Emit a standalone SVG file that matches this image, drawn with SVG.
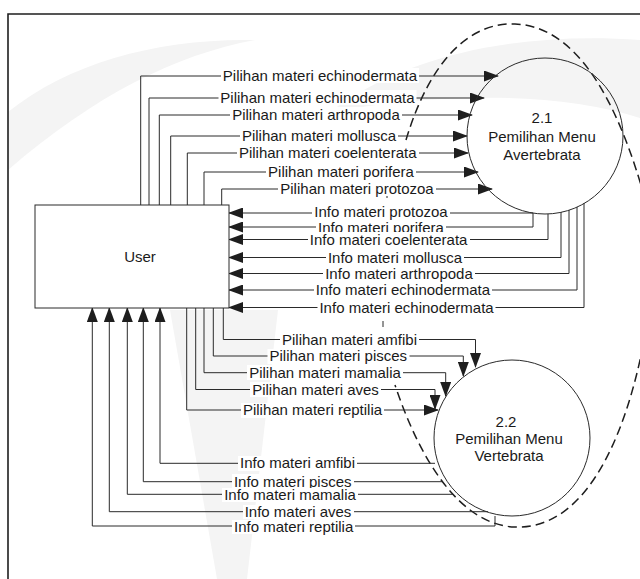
<svg xmlns="http://www.w3.org/2000/svg" width="640" height="579" viewBox="0 0 640 579">
  <defs>
    <marker id="arrow" markerUnits="userSpaceOnUse" markerWidth="15" markerHeight="11" viewBox="0 0 15 11" refX="14" refY="5.5" orient="auto">
      <path d="M0,0 L15,5.5 L0,11 Z" fill="#1e1e1e"/>
    </marker>
    <style>
      .frame { fill: none; stroke: #1e1e1e; stroke-width: 1.6; }
      .wm { fill: #f4f4f4; stroke: none; }
      .node { fill: #ffffff; stroke: #2a2a2a; stroke-width: 1; }
      .flow { fill: none; stroke: #2a2a2a; stroke-width: 1; marker-end: url(#arrow); }
      .line { fill: none; stroke: #2a2a2a; stroke-width: 1; }
      .bound { fill: none; stroke: #1e1e1e; stroke-width: 1.5; stroke-dasharray: 9 5; }
      .bg { fill: #ffffff; }
      text { font-family: "Liberation Sans", Arial, Helvetica, sans-serif; font-size: 15px; fill: #1a1a1a; }
      .lbl { text-anchor: middle; }
      .title { text-anchor: middle; }
    </style>
  </defs>

  <rect width="640" height="579" fill="#ffffff"/>

  <!-- faint background watermark -->
  <g id="watermark">
    <path class="wm" d="M8 112 C70 62 160 38 255 40 C175 55 95 95 8 170 Z"/>
    <path class="wm" d="M330 112 C410 52 525 32 640 40 L640 118 C560 92 440 92 330 112 Z"/>
    <path class="wm" d="M170 310 L278 310 L247 579 L217 579 Z"/>
  </g>

  <!-- page frame -->
  <path class="frame" d="M8 579 V14 H640"/>

  <!-- system boundary (dashed) -->
  <g id="boundary">
    <path class="bound" d="M406 140 C430 60 470 22 515 24 C570 26 615 85 648 210"/>
    <path class="bound" d="M648 318 C632 420 592 530 515 527 C460 525 420 460 395 385"/>
    <path class="line" d="M387 195 V198 M383 321 V327"/>
  </g>

  <!-- connectors -->
  <g id="connectors">
    <!-- User -> 2.1 -->
    <path class="flow" d="M140.7 205 V76 H498"/>
    <path class="flow" d="M149 205 V98 H484"/>
    <path class="flow" d="M159.3 205 V115 H472"/>
    <path class="flow" d="M170.7 205 V136 H467"/>
    <path class="flow" d="M187.3 205 V153 H468"/>
    <path class="flow" d="M204 205 V172 H478"/>
    <path class="flow" d="M221.7 205 V189 H492"/>

    <!-- 2.1 -> User -->
    <path class="flow" d="M533 213 H229"/>
    <path class="flow" d="M533 213 V227 H229"/>
    <path class="flow" d="M548 214 V239.5 H229"/>
    <path class="flow" d="M561 212 V257.5 H229"/>
    <path class="flow" d="M569 210 V273.5 H229"/>
    <path class="flow" d="M577 207 V290 H229"/>
    <path class="flow" d="M584 203 V307.5 H229"/>

    <!-- User -> 2.2 -->
    <path class="flow" d="M223.3 308 V339.5 H475.5 V367"/>
    <path class="flow" d="M213.3 308 V356 H463.3 V376"/>
    <path class="flow" d="M204 308 V372.7 H445.7 V396"/>
    <path class="flow" d="M195.7 308 V389.5 H435 V409"/>
    <path class="flow" d="M186.7 308 V410 H438"/>

    <!-- 2.2 -> User -->
    <path class="flow" d="M435 463.3 H160 V308"/>
    <path class="flow" d="M442 481.7 H143.3 V308"/>
    <path class="flow" d="M453 494.3 H127.3 V308"/>
    <path class="flow" d="M488 511.7 H109.3 V308"/>
    <path class="flow" d="M495 516 V526 H92.3 V308"/>

    <!-- flow labels -->
    <g id="labels">
      <rect class="bg" x="221" y="68" width="198" height="15"/>
      <text class="lbl" x="320" y="81">Pilihan materi echinodermata</text>
      <rect class="bg" x="218.5" y="90" width="198" height="15"/>
      <text class="lbl" x="317.5" y="103">Pilihan materi echinodermata</text>
      <rect class="bg" x="230" y="107" width="172" height="15"/>
      <text class="lbl" x="316" y="120">Pilihan materi arthropoda</text>
      <rect class="bg" x="240" y="128" width="158" height="15"/>
      <text class="lbl" x="319" y="141">Pilihan materi mollusca</text>
      <rect class="bg" x="237" y="145" width="182" height="15"/>
      <text class="lbl" x="327.7" y="158">Pilihan materi coelenterata</text>
      <rect class="bg" x="266" y="164" width="150" height="15"/>
      <text class="lbl" x="341" y="177">Pilihan materi porifera</text>
      <rect class="bg" x="278" y="181" width="158" height="15"/>
      <text class="lbl" x="357" y="194">Pilihan materi protozoa</text>

      <rect class="bg" x="316" y="220" width="130" height="14"/>
      <text class="lbl" x="381" y="232.5">Info materi porifera</text>
      <rect class="bg" x="312" y="205" width="138" height="14"/>
      <text class="lbl" x="381" y="217">Info materi protozoa</text>
      <rect class="bg" x="308" y="232" width="162" height="15"/>
      <text class="lbl" x="388.6" y="244.5">Info materi coelenterata</text>
      <rect class="bg" x="326" y="250" width="138" height="15"/>
      <text class="lbl" x="395" y="262.5">Info materi mollusca</text>
      <rect class="bg" x="323" y="266" width="152" height="15"/>
      <text class="lbl" x="399" y="278.5">Info materi arthropoda</text>
      <rect class="bg" x="314" y="283" width="178" height="15"/>
      <text class="lbl" x="403" y="295">Info materi echinodermata</text>
      <rect class="bg" x="317.5" y="300" width="178" height="15"/>
      <text class="lbl" x="406.6" y="312.5">Info materi echinodermata</text>

      <rect class="bg" x="280" y="332" width="139" height="15"/>
      <text class="lbl" x="349.5" y="344.5">Pilihan materi amfibi</text>
      <rect class="bg" x="267.5" y="349" width="142" height="15"/>
      <text class="lbl" x="338.3" y="361">Pilihan materi pisces</text>
      <rect class="bg" x="247" y="365" width="156" height="15"/>
      <text class="lbl" x="325" y="377.7">Pilihan materi mamalia</text>
      <rect class="bg" x="250" y="382" width="131" height="15"/>
      <text class="lbl" x="315.5" y="394.5">Pilihan materi aves</text>
      <rect class="bg" x="241" y="403" width="143" height="15"/>
      <text class="lbl" x="312.5" y="415">Pilihan materi reptilia</text>

      <rect class="bg" x="238" y="456" width="119" height="15"/>
      <text class="lbl" x="297.5" y="468.3">Info materi amfibi</text>
      <rect class="bg" x="232" y="474" width="122" height="14"/>
      <text class="lbl" x="292.7" y="486.5">Info materi pisces</text>
      <rect class="bg" x="222" y="488" width="136" height="14"/>
      <text class="lbl" x="290" y="499.8">Info materi mamalia</text>
      <rect class="bg" x="243" y="505" width="111" height="14"/>
      <text class="lbl" x="298" y="516.5">Info materi aves</text>
      <rect class="bg" x="232" y="520" width="123" height="14"/>
      <text class="lbl" x="293.7" y="531.5">Info materi reptilia</text>
    </g>
  </g>

  <!-- external entity -->
  <g id="user">
    <rect class="node" x="35" y="205" width="194" height="103"/>
    <text class="title" x="140" y="262">User</text>
  </g>

  <!-- process 2.1 -->
  <g id="p21">
    <circle cx="545" cy="136" r="78" fill="none" stroke="#2a2a2a" stroke-width="1"/>
    <text class="title" x="542" y="123">2.1</text>
    <text class="title" x="542" y="142">Pemilihan Menu</text>
    <text class="title" x="542" y="160">Avertebrata</text>
  </g>

  <!-- process 2.2 -->
  <g id="p22">
    <circle cx="512" cy="438" r="78" fill="none" stroke="#2a2a2a" stroke-width="1"/>
    <text class="title" x="506" y="427">2.2</text>
    <text class="title" x="509" y="444">Pemilihan Menu</text>
    <text class="title" x="509" y="461">Vertebrata</text>
  </g>
</svg>
